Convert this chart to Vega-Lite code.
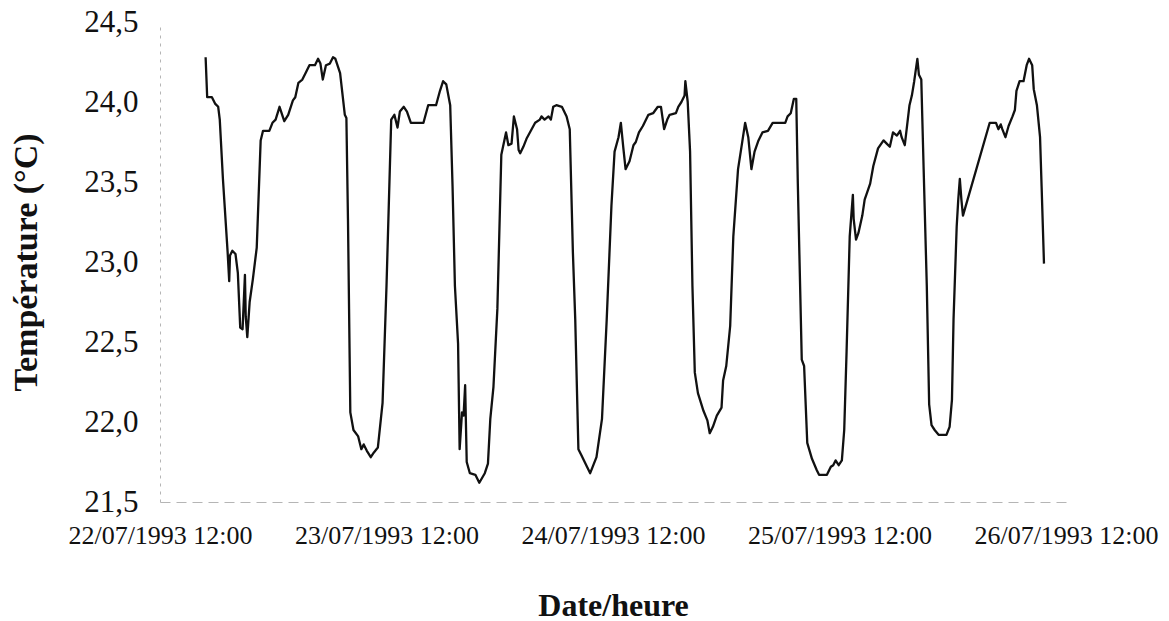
{
  "$schema": "https://vega.github.io/schema/vega-lite/v6.json",
  "width": 906,
  "height": 480,
  "autosize": "none",
  "padding": {"left": 160, "top": 22, "right": 103, "bottom": 119},
  "background": "white",
  "config": {
    "view": {"stroke": null},
    "font": "Liberation Serif"
  },
  "data": {
    "values": [
      {"t": "1993-07-22T16:50", "temp": 24.28},
      {"t": "1993-07-22T17:00", "temp": 24.03},
      {"t": "1993-07-22T17:30", "temp": 24.03},
      {"t": "1993-07-22T17:50", "temp": 23.99},
      {"t": "1993-07-22T18:10", "temp": 23.97},
      {"t": "1993-07-22T18:20", "temp": 23.89},
      {"t": "1993-07-22T18:40", "temp": 23.52},
      {"t": "1993-07-22T19:10", "temp": 23.06},
      {"t": "1993-07-22T19:20", "temp": 22.88},
      {"t": "1993-07-22T19:25", "temp": 23.04},
      {"t": "1993-07-22T19:40", "temp": 23.07},
      {"t": "1993-07-22T20:00", "temp": 23.05},
      {"t": "1993-07-22T20:15", "temp": 22.93},
      {"t": "1993-07-22T20:30", "temp": 22.59},
      {"t": "1993-07-22T20:45", "temp": 22.58},
      {"t": "1993-07-22T21:00", "temp": 22.92},
      {"t": "1993-07-22T21:05", "temp": 22.66},
      {"t": "1993-07-22T21:15", "temp": 22.53},
      {"t": "1993-07-22T21:30", "temp": 22.75},
      {"t": "1993-07-22T21:50", "temp": 22.89},
      {"t": "1993-07-22T22:15", "temp": 23.09},
      {"t": "1993-07-22T22:40", "temp": 23.76},
      {"t": "1993-07-22T22:55", "temp": 23.82},
      {"t": "1993-07-22T23:35", "temp": 23.82},
      {"t": "1993-07-22T23:55", "temp": 23.87},
      {"t": "1993-07-23T00:15", "temp": 23.89},
      {"t": "1993-07-23T00:40", "temp": 23.97},
      {"t": "1993-07-23T01:10", "temp": 23.88},
      {"t": "1993-07-23T01:35", "temp": 23.92},
      {"t": "1993-07-23T02:05", "temp": 24.01},
      {"t": "1993-07-23T02:20", "temp": 24.03},
      {"t": "1993-07-23T02:40", "temp": 24.12},
      {"t": "1993-07-23T03:05", "temp": 24.14},
      {"t": "1993-07-23T03:25", "temp": 24.18},
      {"t": "1993-07-23T03:50", "temp": 24.23},
      {"t": "1993-07-23T04:25", "temp": 24.23},
      {"t": "1993-07-23T04:45", "temp": 24.27},
      {"t": "1993-07-23T05:00", "temp": 24.24},
      {"t": "1993-07-23T05:15", "temp": 24.14},
      {"t": "1993-07-23T05:35", "temp": 24.23},
      {"t": "1993-07-23T06:00", "temp": 24.24},
      {"t": "1993-07-23T06:20", "temp": 24.28},
      {"t": "1993-07-23T06:35", "temp": 24.27},
      {"t": "1993-07-23T07:05", "temp": 24.18},
      {"t": "1993-07-23T07:35", "temp": 23.92},
      {"t": "1993-07-23T07:45", "temp": 23.90},
      {"t": "1993-07-23T07:55", "temp": 23.27},
      {"t": "1993-07-23T08:10", "temp": 22.06},
      {"t": "1993-07-23T08:30", "temp": 21.95},
      {"t": "1993-07-23T09:00", "temp": 21.91},
      {"t": "1993-07-23T09:20", "temp": 21.83},
      {"t": "1993-07-23T09:35", "temp": 21.86},
      {"t": "1993-07-23T09:55", "temp": 21.82},
      {"t": "1993-07-23T10:20", "temp": 21.78},
      {"t": "1993-07-23T10:40", "temp": 21.81},
      {"t": "1993-07-23T11:05", "temp": 21.84},
      {"t": "1993-07-23T11:35", "temp": 22.12},
      {"t": "1993-07-23T12:00", "temp": 22.85},
      {"t": "1993-07-23T12:30", "temp": 23.89},
      {"t": "1993-07-23T12:50", "temp": 23.92},
      {"t": "1993-07-23T13:10", "temp": 23.84},
      {"t": "1993-07-23T13:25", "temp": 23.94},
      {"t": "1993-07-23T13:50", "temp": 23.97},
      {"t": "1993-07-23T14:10", "temp": 23.94},
      {"t": "1993-07-23T14:35", "temp": 23.87},
      {"t": "1993-07-23T15:55", "temp": 23.87},
      {"t": "1993-07-23T16:25", "temp": 23.98},
      {"t": "1993-07-23T17:15", "temp": 23.98},
      {"t": "1993-07-23T17:40", "temp": 24.07},
      {"t": "1993-07-23T18:00", "temp": 24.13},
      {"t": "1993-07-23T18:20", "temp": 24.11},
      {"t": "1993-07-23T18:45", "temp": 23.98},
      {"t": "1993-07-23T19:00", "temp": 23.47},
      {"t": "1993-07-23T19:15", "temp": 22.85},
      {"t": "1993-07-23T19:35", "temp": 22.49},
      {"t": "1993-07-23T19:45", "temp": 21.83},
      {"t": "1993-07-23T20:00", "temp": 22.06},
      {"t": "1993-07-23T20:10", "temp": 22.04},
      {"t": "1993-07-23T20:20", "temp": 22.23},
      {"t": "1993-07-23T20:30", "temp": 21.75},
      {"t": "1993-07-23T20:50", "temp": 21.68},
      {"t": "1993-07-23T21:25", "temp": 21.67},
      {"t": "1993-07-23T21:50", "temp": 21.62},
      {"t": "1993-07-23T22:25", "temp": 21.68},
      {"t": "1993-07-23T22:45", "temp": 21.74},
      {"t": "1993-07-23T23:00", "temp": 22.02},
      {"t": "1993-07-23T23:20", "temp": 22.22},
      {"t": "1993-07-23T23:45", "temp": 22.71},
      {"t": "1993-07-24T00:10", "temp": 23.67},
      {"t": "1993-07-24T00:40", "temp": 23.81},
      {"t": "1993-07-24T00:55", "temp": 23.73},
      {"t": "1993-07-24T01:15", "temp": 23.74},
      {"t": "1993-07-24T01:30", "temp": 23.91},
      {"t": "1993-07-24T01:50", "temp": 23.83},
      {"t": "1993-07-24T02:00", "temp": 23.70},
      {"t": "1993-07-24T02:10", "temp": 23.68},
      {"t": "1993-07-24T02:30", "temp": 23.72},
      {"t": "1993-07-24T02:50", "temp": 23.77},
      {"t": "1993-07-24T03:45", "temp": 23.87},
      {"t": "1993-07-24T04:15", "temp": 23.89},
      {"t": "1993-07-24T04:25", "temp": 23.91},
      {"t": "1993-07-24T04:45", "temp": 23.89},
      {"t": "1993-07-24T05:10", "temp": 23.91},
      {"t": "1993-07-24T05:25", "temp": 23.89},
      {"t": "1993-07-24T05:40", "temp": 23.97},
      {"t": "1993-07-24T06:00", "temp": 23.98},
      {"t": "1993-07-24T06:35", "temp": 23.97},
      {"t": "1993-07-24T07:05", "temp": 23.91},
      {"t": "1993-07-24T07:25", "temp": 23.83},
      {"t": "1993-07-24T07:45", "temp": 23.06},
      {"t": "1993-07-24T08:00", "temp": 22.64},
      {"t": "1993-07-24T08:20", "temp": 21.83},
      {"t": "1993-07-24T08:40", "temp": 21.79},
      {"t": "1993-07-24T09:10", "temp": 21.73},
      {"t": "1993-07-24T09:35", "temp": 21.68},
      {"t": "1993-07-24T09:55", "temp": 21.73},
      {"t": "1993-07-24T10:15", "temp": 21.78},
      {"t": "1993-07-24T10:50", "temp": 22.02},
      {"t": "1993-07-24T11:20", "temp": 22.64},
      {"t": "1993-07-24T11:50", "temp": 23.35},
      {"t": "1993-07-24T12:10", "temp": 23.69},
      {"t": "1993-07-24T12:35", "temp": 23.78},
      {"t": "1993-07-24T12:50", "temp": 23.87},
      {"t": "1993-07-24T13:05", "temp": 23.72},
      {"t": "1993-07-24T13:20", "temp": 23.58},
      {"t": "1993-07-24T13:45", "temp": 23.63},
      {"t": "1993-07-24T14:10", "temp": 23.73},
      {"t": "1993-07-24T14:25", "temp": 23.75},
      {"t": "1993-07-24T14:45", "temp": 23.81},
      {"t": "1993-07-24T15:10", "temp": 23.85},
      {"t": "1993-07-24T15:45", "temp": 23.92},
      {"t": "1993-07-24T16:15", "temp": 23.93},
      {"t": "1993-07-24T16:45", "temp": 23.97},
      {"t": "1993-07-24T17:05", "temp": 23.97},
      {"t": "1993-07-24T17:25", "temp": 23.83},
      {"t": "1993-07-24T17:45", "temp": 23.89},
      {"t": "1993-07-24T18:00", "temp": 23.92},
      {"t": "1993-07-24T18:40", "temp": 23.93},
      {"t": "1993-07-24T18:55", "temp": 23.97},
      {"t": "1993-07-24T19:15", "temp": 24.00},
      {"t": "1993-07-24T19:35", "temp": 24.04},
      {"t": "1993-07-24T19:40", "temp": 24.13},
      {"t": "1993-07-24T19:55", "temp": 24.00},
      {"t": "1993-07-24T20:10", "temp": 23.69},
      {"t": "1993-07-24T20:25", "temp": 22.85},
      {"t": "1993-07-24T20:40", "temp": 22.31},
      {"t": "1993-07-24T21:00", "temp": 22.18},
      {"t": "1993-07-24T21:35", "temp": 22.07},
      {"t": "1993-07-24T22:00", "temp": 22.01},
      {"t": "1993-07-24T22:15", "temp": 21.93},
      {"t": "1993-07-24T22:35", "temp": 21.97},
      {"t": "1993-07-24T23:00", "temp": 22.04},
      {"t": "1993-07-24T23:30", "temp": 22.09},
      {"t": "1993-07-24T23:40", "temp": 22.26},
      {"t": "1993-07-25T00:00", "temp": 22.35},
      {"t": "1993-07-25T00:25", "temp": 22.60},
      {"t": "1993-07-25T00:45", "temp": 23.16},
      {"t": "1993-07-25T01:15", "temp": 23.58},
      {"t": "1993-07-25T01:40", "temp": 23.74},
      {"t": "1993-07-25T02:00", "temp": 23.87},
      {"t": "1993-07-25T02:20", "temp": 23.78},
      {"t": "1993-07-25T02:40", "temp": 23.58},
      {"t": "1993-07-25T03:00", "temp": 23.69},
      {"t": "1993-07-25T03:25", "temp": 23.76},
      {"t": "1993-07-25T03:50", "temp": 23.81},
      {"t": "1993-07-25T04:25", "temp": 23.82},
      {"t": "1993-07-25T04:55", "temp": 23.87},
      {"t": "1993-07-25T06:15", "temp": 23.87},
      {"t": "1993-07-25T06:30", "temp": 23.91},
      {"t": "1993-07-25T06:50", "temp": 23.93},
      {"t": "1993-07-25T07:10", "temp": 24.02},
      {"t": "1993-07-25T07:25", "temp": 24.02},
      {"t": "1993-07-25T07:35", "temp": 23.49},
      {"t": "1993-07-25T08:00", "temp": 22.39},
      {"t": "1993-07-25T08:15", "temp": 22.35},
      {"t": "1993-07-25T08:35", "temp": 21.87},
      {"t": "1993-07-25T09:05", "temp": 21.77},
      {"t": "1993-07-25T09:35", "temp": 21.70},
      {"t": "1993-07-25T09:50", "temp": 21.67},
      {"t": "1993-07-25T10:40", "temp": 21.67},
      {"t": "1993-07-25T11:05", "temp": 21.72},
      {"t": "1993-07-25T11:20", "temp": 21.73},
      {"t": "1993-07-25T11:35", "temp": 21.76},
      {"t": "1993-07-25T11:55", "temp": 21.73},
      {"t": "1993-07-25T12:15", "temp": 21.76},
      {"t": "1993-07-25T12:30", "temp": 21.95},
      {"t": "1993-07-25T12:45", "temp": 22.44},
      {"t": "1993-07-25T13:05", "temp": 23.16},
      {"t": "1993-07-25T13:25", "temp": 23.42},
      {"t": "1993-07-25T13:30", "temp": 23.27},
      {"t": "1993-07-25T13:45", "temp": 23.14},
      {"t": "1993-07-25T14:00", "temp": 23.18},
      {"t": "1993-07-25T14:25", "temp": 23.29},
      {"t": "1993-07-25T14:40", "temp": 23.39},
      {"t": "1993-07-25T15:15", "temp": 23.49},
      {"t": "1993-07-25T15:35", "temp": 23.60},
      {"t": "1993-07-25T16:05", "temp": 23.71},
      {"t": "1993-07-25T16:40", "temp": 23.76},
      {"t": "1993-07-25T17:00", "temp": 23.74},
      {"t": "1993-07-25T17:20", "temp": 23.72},
      {"t": "1993-07-25T17:40", "temp": 23.81},
      {"t": "1993-07-25T18:05", "temp": 23.79},
      {"t": "1993-07-25T18:25", "temp": 23.82},
      {"t": "1993-07-25T18:35", "temp": 23.78},
      {"t": "1993-07-25T18:55", "temp": 23.73},
      {"t": "1993-07-25T19:25", "temp": 23.98},
      {"t": "1993-07-25T19:40", "temp": 24.04},
      {"t": "1993-07-25T19:55", "temp": 24.13},
      {"t": "1993-07-25T20:15", "temp": 24.27},
      {"t": "1993-07-25T20:25", "temp": 24.17},
      {"t": "1993-07-25T20:40", "temp": 24.14},
      {"t": "1993-07-25T20:55", "temp": 23.58},
      {"t": "1993-07-25T21:15", "temp": 22.85},
      {"t": "1993-07-25T21:30", "temp": 22.11},
      {"t": "1993-07-25T21:45", "temp": 21.98},
      {"t": "1993-07-25T22:05", "temp": 21.95},
      {"t": "1993-07-25T22:30", "temp": 21.92},
      {"t": "1993-07-25T23:20", "temp": 21.92},
      {"t": "1993-07-25T23:40", "temp": 21.97},
      {"t": "1993-07-25T23:55", "temp": 22.14},
      {"t": "1993-07-26T00:05", "temp": 22.64},
      {"t": "1993-07-26T00:25", "temp": 23.22},
      {"t": "1993-07-26T00:35", "temp": 23.39},
      {"t": "1993-07-26T00:45", "temp": 23.52},
      {"t": "1993-07-26T00:55", "temp": 23.39},
      {"t": "1993-07-26T01:05", "temp": 23.29},
      {"t": "1993-07-26T03:55", "temp": 23.87},
      {"t": "1993-07-26T04:15", "temp": 23.87},
      {"t": "1993-07-26T04:35", "temp": 23.87},
      {"t": "1993-07-26T04:50", "temp": 23.83},
      {"t": "1993-07-26T05:05", "temp": 23.86},
      {"t": "1993-07-26T05:15", "temp": 23.83},
      {"t": "1993-07-26T05:35", "temp": 23.78},
      {"t": "1993-07-26T05:55", "temp": 23.85},
      {"t": "1993-07-26T06:20", "temp": 23.91},
      {"t": "1993-07-26T06:35", "temp": 23.95},
      {"t": "1993-07-26T06:45", "temp": 24.07},
      {"t": "1993-07-26T07:05", "temp": 24.13},
      {"t": "1993-07-26T07:30", "temp": 24.13},
      {"t": "1993-07-26T07:50", "temp": 24.23},
      {"t": "1993-07-26T08:05", "temp": 24.27},
      {"t": "1993-07-26T08:25", "temp": 24.23},
      {"t": "1993-07-26T08:35", "temp": 24.08},
      {"t": "1993-07-26T08:55", "temp": 23.98},
      {"t": "1993-07-26T09:15", "temp": 23.78},
      {"t": "1993-07-26T09:25", "temp": 23.47},
      {"t": "1993-07-26T09:40", "temp": 22.99}
    ]
  },
  "mark": {"type": "line", "color": "#111111", "strokeWidth": 2.3, "strokeJoin": "round"},
  "encoding": {
    "x": {
      "field": "t",
      "type": "temporal",
      "scale": {
        "domain": [
          {"year": 1993, "month": 7, "date": 22, "hours": 12},
          {"year": 1993, "month": 7, "date": 26, "hours": 12}
        ]
      },
      "axis": {
        "title": "Date/heure",
        "titleFont": "Liberation Serif",
        "titleFontSize": 32,
        "titleFontWeight": "bold",
        "titleColor": "#111111",
        "titlePadding": 42,
        "values": [
          {"year": 1993, "month": 7, "date": 22, "hours": 12},
          {"year": 1993, "month": 7, "date": 23, "hours": 12},
          {"year": 1993, "month": 7, "date": 24, "hours": 12},
          {"year": 1993, "month": 7, "date": 25, "hours": 12},
          {"year": 1993, "month": 7, "date": 26, "hours": 12}
        ],
        "format": "%d/%m/%Y %H:%M",
        "labelFont": "Liberation Serif",
        "labelFontSize": 26,
        "labelLimit": 400,
        "labelColor": "#111111",
        "labelPadding": 20,
        "labelOverlap": false,
        "labelFlush": false,
        "ticks": false,
        "grid": false,
        "domainColor": "#b5b5b5",
        "domainWidth": 1,
        "domainDash": [10, 6]
      }
    },
    "y": {
      "field": "temp",
      "type": "quantitative",
      "scale": {"domain": [21.5, 24.5], "nice": false, "zero": false},
      "axis": {
        "title": "Température (°C)",
        "titleFont": "Liberation Serif",
        "titleFontSize": 34,
        "titleFontWeight": "bold",
        "titleColor": "#111111",
        "titlePadding": 40,
        "values": [21.5, 22, 22.5, 23, 23.5, 24, 24.5],
        "labelExpr": "replace(format(datum.value, '.1f'), '.', ',')",
        "labelFont": "Liberation Serif",
        "labelFontSize": 31,
        "labelColor": "#111111",
        "labelPadding": 22,
        "ticks": false,
        "grid": false,
        "domainColor": "#b5b5b5",
        "domainWidth": 1,
        "domainDash": [3, 5]
      }
    }
  }
}
